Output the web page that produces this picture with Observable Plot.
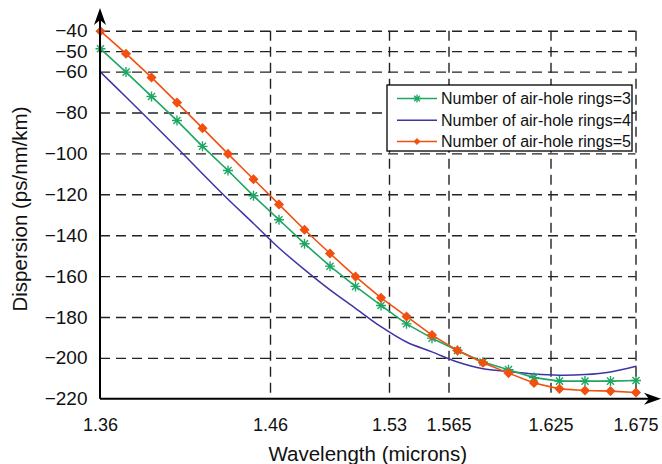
<!DOCTYPE html>
<html>
<head>
<meta charset="utf-8">
<script src="https://cdn.jsdelivr.net/npm/d3@7"></script>
<script src="https://cdn.jsdelivr.net/npm/@observablehq/plot@0.6"></script>
<style>
  html, body { margin: 0; padding: 0; background: #fff; }
  #chart svg { display: block; }
</style>
</head>
<body>
<div id="chart"></div>
<script>
// ---- data ----
const wavelength = [1.36, 1.375, 1.39, 1.405, 1.42, 1.435, 1.45, 1.465, 1.48, 1.495, 1.51,
                    1.525, 1.54, 1.555, 1.57, 1.585, 1.6, 1.615, 1.63, 1.645, 1.66, 1.675];
const rings3 = [-48.6, -60, -71.9, -83.7, -96.3, -108.1, -120.5, -132.2, -143.9, -154.9, -164.8,
                -174.1, -183.1, -190.1, -196.1, -201.8, -205.5, -209.4, -211.1, -211.1, -211.1, -210.8];
const rings4 = [-60, -72.2, -84.5, -97, -109.7, -122.2, -134, -146, -156.6, -166.5, -175.5,
                -184.5, -192, -196.8, -201.8, -205.1, -206.4, -207.6, -208.2, -207.9, -206.6, -203.8];
const rings5 = [-40, -51, -62.6, -74.9, -87.4, -100, -112.4, -124.7, -137.1, -148.7, -160,
                -170.4, -179.5, -188.6, -196.1, -202.1, -207.2, -212, -214.9, -215.7, -216, -216.7];
const xTicks = [1.36, 1.46, 1.53, 1.565, 1.625, 1.675];
const yTicks = [-40, -50, -60, -80, -100, -120, -140, -160, -180, -200, -220];
const seriesNames = ["Number of air-hole rings=3", "Number of air-hole rings=4", "Number of air-hole rings=5"];
const xLabel = "Wavelength (microns)";
const yLabel = "Dispersion (ps/nm/km)";

// ---- build table ----
const s3 = wavelength.map((w, i) => ({w, v: rings3[i]}));
const s4 = wavelength.map((w, i) => ({w, v: rings4[i]}));
const s5 = wavelength.map((w, i) => ({w, v: rings5[i]}));

const GREEN = "#1ea764", BLUE = "#3d35a6", ORANGE = "#f2500f";
const FONT = "'Liberation Sans', Arial, Helvetica, sans-serif";

const asterisk = {
  draw(ctx, size) {
    const r = Math.sqrt(size / Math.PI);
    const d = r * Math.SQRT1_2;
    ctx.moveTo(-r, 0); ctx.lineTo(r, 0);
    ctx.moveTo(0, -r); ctx.lineTo(0, r);
    ctx.moveTo(-d, -d); ctx.lineTo(d, d);
    ctx.moveTo(-d, d); ctx.lineTo(d, -d);
  }
};

const chart = Plot.plot({
  width: 662,
  height: 464,
  marginLeft: 100,
  marginRight: 26.5,
  marginTop: 30.7,
  marginBottom: 65.2,
  style: {fontFamily: FONT, fontSize: "18px", color: "#111", background: "#fff"},
  x: {domain: [1.36, 1.675]},
  y: {domain: [-220, -40]},
  marks: [
    Plot.ruleY(yTicks.filter(d => d !== -220), {stroke: "#222", strokeWidth: 1.4, strokeDasharray: "10,6"}),
    Plot.ruleX(xTicks.filter(d => d !== 1.36), {stroke: "#222", strokeWidth: 1.4, strokeDasharray: "10,6"}),
    Plot.line(s4, {x: "w", y: "v", stroke: BLUE, strokeWidth: 1.5, curve: "catmull-rom"}),
    Plot.line(s3, {x: "w", y: "v", stroke: GREEN, strokeWidth: 1.6}),
    Plot.dot(s3, {x: "w", y: "v", symbol: asterisk, r: 5, stroke: GREEN, strokeWidth: 1.4, fill: "none"}),
    Plot.line(s5, {x: "w", y: "v", stroke: ORANGE, strokeWidth: 1.6}),
    Plot.dot(s5, {x: "w", y: "v", symbol: "diamond2", r: 3.6, fill: ORANGE, stroke: ORANGE, strokeWidth: 1.5}),
    Plot.axisX(xTicks, {tickSize: 0, tickPadding: 19, fontSize: 18, tickFormat: d => String(d), label: null}),
    Plot.axisY(yTicks, {tickSize: 0, tickPadding: 13, fontSize: 19, tickFormat: d => String(d).replace("-", "\u2212"), label: null})
  ]
});

document.getElementById("chart").appendChild(chart);

// ---- axes lines, arrows, labels, legend ----
const svg = d3.select(chart);
const X = chart.scale("x"), Y = chart.scale("y");
const x0 = X.apply(1.36), x1 = X.apply(1.675);
const y0 = Y.apply(-220);

const g = svg.append("g");
g.append("line").attr("x1", x0).attr("x2", 652).attr("y1", y0).attr("y2", y0)
  .attr("stroke", "#000").attr("stroke-width", 2);
g.append("line").attr("x1", x0).attr("x2", x0).attr("y1", y0).attr("y2", 14)
  .attr("stroke", "#000").attr("stroke-width", 2);
// arrow heads
g.append("path").attr("d", `M${x0},8 L${x0 + 6},25 L${x0},20 L${x0 - 6},25 Z`).attr("fill", "#000");
g.append("path").attr("d", `M661,${y0} L644,${y0 - 6} L649,${y0} L644,${y0 + 6} Z`).attr("fill", "#000");

// axis titles
g.append("text").text(xLabel)
  .attr("x", (x0 + x1) / 2).attr("y", 461)
  .attr("text-anchor", "middle").attr("font-size", 20.5).attr("font-family", FONT).attr("fill", "#111");
g.append("text").text(yLabel)
  .attr("transform", `translate(27,${(108 + 310) / 2}) rotate(-90)`)
  .attr("text-anchor", "middle").attr("font-size", 20.5).attr("font-family", FONT).attr("fill", "#111");

// legend
const lg = svg.append("g");
lg.append("rect").attr("x", 387).attr("y", 85).attr("width", 245).attr("height", 66)
  .attr("fill", "#fff").attr("stroke", "#000").attr("stroke-width", 1.3);
const rowsY = [98.5, 120.3, 141.5];
const colors = [GREEN, BLUE, ORANGE];
seriesNames.forEach((name, i) => {
  const yy = rowsY[i];
  lg.append("line").attr("x1", 397).attr("x2", 437).attr("y1", yy).attr("y2", yy)
    .attr("stroke", colors[i]).attr("stroke-width", 1.6);
  if (i === 0) {
    lg.append("path").attr("d", d3.symbol().type(asterisk).size(Math.PI * 16)())
      .attr("transform", `translate(417,${yy})`).attr("stroke", GREEN).attr("stroke-width", 1.3).attr("fill", "none");
  } else if (i === 2) {
    lg.append("path").attr("d", d3.symbol().type(d3.symbolDiamond2).size(Math.PI * 7)())
      .attr("transform", `translate(417,${yy})`).attr("fill", ORANGE).attr("stroke", ORANGE).attr("stroke-width", 1);
  }
  lg.append("text").text(name).attr("x", 441).attr("y", yy + 5.8)
    .attr("text-anchor", "start")
    .attr("font-size", 16).attr("font-family", FONT).attr("fill", "#111");
});
</script>
</body>
</html>
